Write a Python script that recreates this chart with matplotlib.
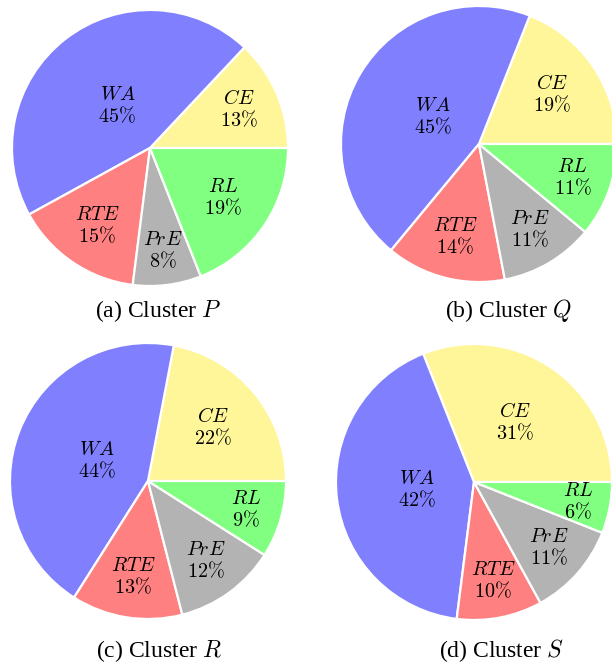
import matplotlib
matplotlib.use("Agg")
import matplotlib.pyplot as plt
import numpy as np

plt.rcParams['mathtext.fontset'] = 'cm'

# Slice order, counter-clockwise from 0 degrees
categories = ['CE', 'WA', 'RTE', 'PrE', 'RL']
cluster_p = [13, 45, 15, 8, 19]
cluster_q = [19, 45, 14, 11, 11]
cluster_r = [22, 44, 13, 12, 9]
cluster_s = [31, 42, 10, 11, 6]
captions = ['(a) Cluster $P$', '(b) Cluster $Q$', '(c) Cluster $R$', '(d) Cluster $S$']

colors = ['#FFF599', '#8080FF', '#FF8080', '#B3B3B3', '#80FF80']
explode_frac = [0, 0.04, 0, 0, 0]

W, H = 612, 665
fig = plt.figure(figsize=(W / 100, H / 100), dpi=100)
ax = fig.add_axes([0, 0, 1, 1])

# pie centres / radius and caption anchors in pixel space (y downwards)
layout = [
    dict(cx=150, cy=148, r=138, tx=158, ty=311),
    dict(cx=479, cy=144, r=138, tx=508, ty=311),
    dict(cx=148, cy=481, r=138, tx=159, ty=651),
    dict(cx=474, cy=482, r=138, tx=501, ty=651),
]
datasets = [cluster_p, cluster_q, cluster_r, cluster_s]

for data, lay, cap in zip(datasets, layout, captions):
    cx, cy, r = lay['cx'], H - lay['cy'], lay['r']
    wedges, _ = ax.pie(data, colors=colors, startangle=0, counterclock=True,
                       explode=explode_frac, center=(cx, cy), radius=r,
                       wedgeprops=dict(edgecolor='white', linewidth=1.6,
                                       joinstyle='round'))
    for w, name, val in zip(wedges, categories, data):
        span = w.theta2 - w.theta1
        mid = np.deg2rad(0.5 * (w.theta1 + w.theta2))
        # label radius shrinks for wide slices
        f = min((span - 10) / 110 * (-0.3), 0)
        dist = (max(f, -0.5) + 0.8) * r
        wx, wy = w.center
        ax.text(wx + dist * np.cos(mid), wy + dist * np.sin(mid),
                f'${name}$\n${val}\\%$', ha='center', va='center',
                fontsize=14.5, linespacing=1.1)
    ax.text(lay['tx'], H - lay['ty'], cap, ha='center', va='center',
            fontsize=17, family='Liberation Serif')

ax.set_xlim(0, W)
ax.set_ylim(0, H)
ax.set_aspect('auto')
ax.axis('off')

fig.savefig('out.png', dpi=100)
